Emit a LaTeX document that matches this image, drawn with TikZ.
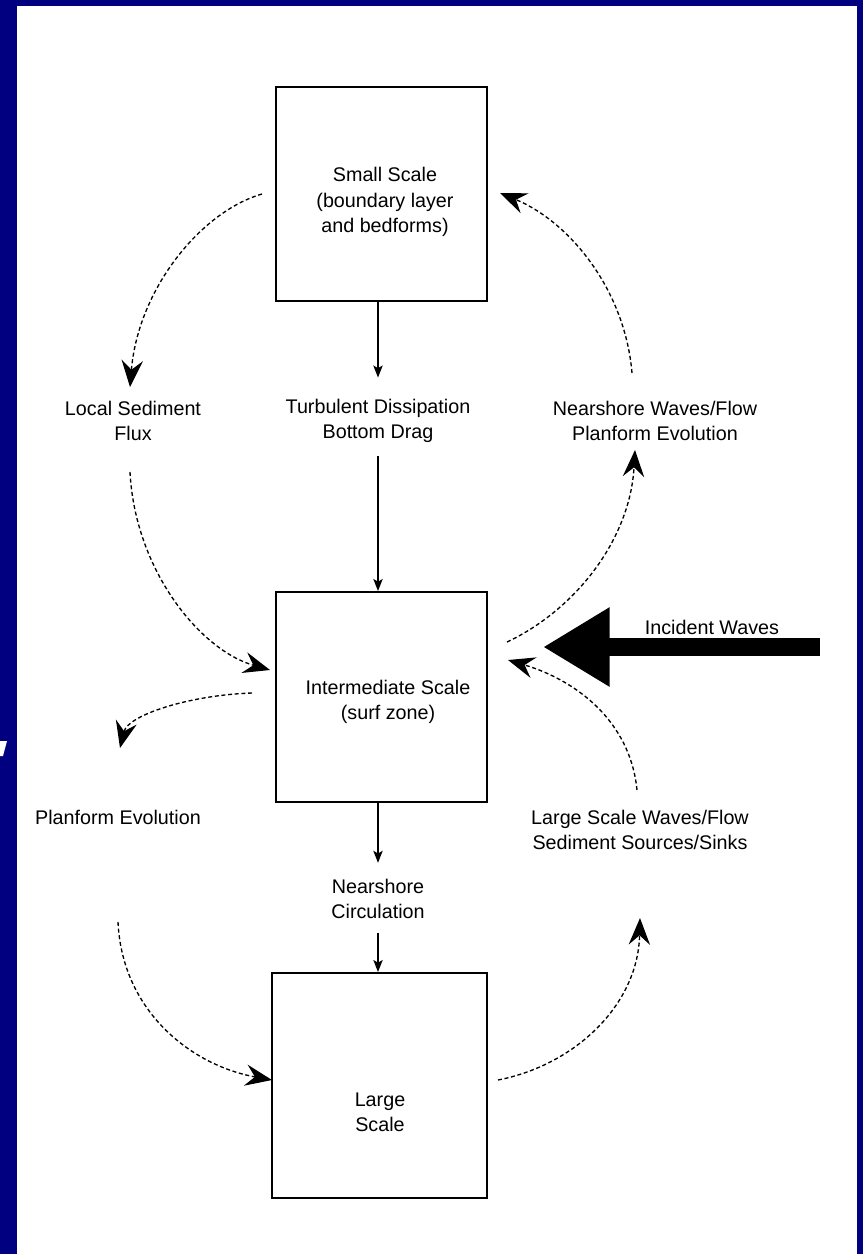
\documentclass[tikz,border=0pt]{standalone}
\usepackage{fontspec}
\setmainfont{Liberation Sans}
\usepackage{tikz}
\usetikzlibrary{arrows.meta}
\definecolor{navy}{RGB}{0, 0, 128}

\begin{document}
\begin{tikzpicture}[x=0.75pt,y=0.75pt,yscale=-1,xscale=1,
  scalebox/.style={draw, line width=1.5pt, inner sep=0pt},
  txt/.style={inner sep=0pt, align=center, font=\fontsize{14.8}{19}\selectfont},
  stemarrow/.style={line width=1.1pt, -{Stealth[length=9pt,width=7pt,inset=2pt]}},
  feedback/.style={line width=1pt, dash pattern=on 3pt off 2pt, -{Stealth[length=20pt,width=16pt,inset=7pt]}},
  bigarrow/.style={line width=13.5pt, -{Triangle[length=50pt,width=56pt]}}]
\useasboundingbox (0,0) rectangle (863,1254);
%Frame
\fill[navy] (0,0) rectangle (863,1254);
\fill[white] (17,6) rectangle (857,1254);
\fill[white] (0,741) -- (7,741) -- (3,756) -- (0,756) -- cycle;

%Rectangles
\node[scalebox, minimum width=158pt, minimum height=160.5pt] (small) at (381.5,194) {};
\node[scalebox, minimum width=158pt, minimum height=157.5pt] (mid) at (381.5,697) {};
\node[scalebox, minimum width=161pt, minimum height=168.75pt] (large) at (379.5,1085.5) {};

% Text Node
\node[txt] (smalltxt) at (385,202) {Small Scale\\(boundary layer\\and bedforms)};
% Text Node
\node[txt] (midtxt) at (388,702) {Intermediate Scale\\(surf zone)};
% Text Node
\node[txt] (largetxt) at (380,1112) {Large\\Scale};
% Text Node
\node[txt] (lsf) at (133,421) {Local Sediment\\Flux};
% Text Node
\node[txt] (td) at (378,421) {Turbulent Dissipation\\Bottom Drag};
% Text Node
\node[txt] (nwf) at (655,421) {Nearshore Waves/Flow\\Planform Evolution};
% Text Node
\node[txt] (pe) at (118,817) {Planform Evolution};
% Text Node
\node[txt] (nc) at (378,899) {Nearshore\\Circulation};
% Text Node
\node[txt] (lsw) at (640,830) {Large Scale Waves/Flow\\Sediment Sources/Sinks};
% Text Node
\node[txt] (iw) at (712,627) {Incident Waves};

%Straight Lines
\draw[stemarrow, shorten >=16pt] (small.south -| td.north) -- (td.north);
\draw[stemarrow, shorten <=10pt] (td.south) -- (mid.north -| td.south);
\draw[stemarrow, shorten >=12pt] (mid.south -| nc.north) -- (nc.north);
\draw[stemarrow, shorten <=10pt] (nc.south) -- (large.north -| nc.south);

%Curve Lines
\coordinate (ul0) at (262,194);
\coordinate (ul1) at (130,387);
\coordinate (ml0) at (130,472);
\coordinate (ml1) at (270,670);
\coordinate (ur0) at (632,373);
\coordinate (ur1) at (500,193);
\coordinate (mr0) at (507,642);
\coordinate (mr1) at (635,450);
\coordinate (ll0) at (252,693);
\coordinate (ll1) at (120,748);
\coordinate (bl0) at (118,922);
\coordinate (bl1) at (272,1080);
\coordinate (br0) at (498,1080);
\coordinate (br1) at (640,918);
\coordinate (lr0) at (637,790);
\coordinate (lr1) at (508,660);
\draw[feedback] (ul0) .. controls (200,212) and (138,290) .. (ul1);
\draw[feedback] (ml0) .. controls (135,570) and (200,650) .. (ml1);
\draw[feedback] (ur0) .. controls (625,290) and (570,222) .. (ur1);
\draw[feedback] (mr0) .. controls (575,610) and (630,540) .. (mr1);
\draw[feedback] (ll0) .. controls (190,695) and (128,715) .. (ll1);
\draw[feedback] (bl0) .. controls (122,1010) and (190,1065) .. (bl1);
\draw[feedback] (br0) .. controls (575,1065) and (638,1005) .. (br1);
\draw[feedback] (lr0) .. controls (630,720) and (575,680) .. (lr1);

%Incident arrow
\coordinate (wavesrc) at (820,647);
\coordinate (wavetip) at (543,647);
\draw[bigarrow] (wavesrc) -- (wavetip);

\end{tikzpicture}
\end{document}
